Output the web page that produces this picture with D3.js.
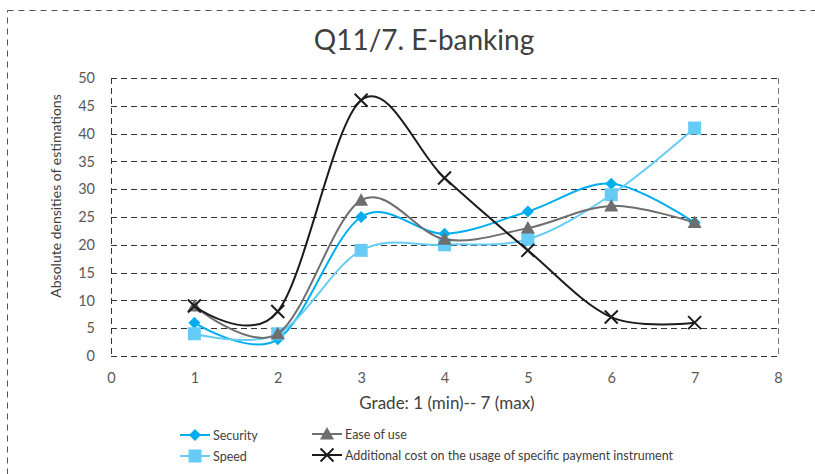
<!DOCTYPE html>
<html>
<head>
<meta charset="utf-8">
<script src="https://cdn.jsdelivr.net/npm/d3@7"></script>
<style>
  html, body { margin: 0; padding: 0; background: #fff; }
  svg { display: block; font-family: "Lato", "Open Sans", sans-serif; }
</style>
</head>
<body>
<svg id="chart" width="815" height="474"></svg>
<script>
// Grades on the x axis
const grades = [1, 2, 3, 4, 5, 6, 7];

// Absolute densities of estimations per grade
const security      = [6, 3, 25, 22, 26, 31, 24];
const speed         = [4, 4, 19, 20, 21, 29, 41];
const easeOfUse     = [9, 4, 28, 21, 23, 27, 24];
const additionalCost = [9, 8, 46, 32, 19, 7, 6];

const seriesNames = [
  "Security",
  "Speed",
  "Ease of use",
  "Additional cost on the usage of specific payment instrument"
];

const xTicks = [0, 1, 2, 3, 4, 5, 6, 7, 8];
const yTicks = [0, 5, 10, 15, 20, 25, 30, 35, 40, 45, 50];

const series = [
  { name: seriesNames[0], values: security,       color: "#00aeef", width: 2,   marker: "diamond" },
  { name: seriesNames[1], values: speed,          color: "#66ccf5", width: 2,   marker: "square" },
  { name: seriesNames[2], values: easeOfUse,      color: "#6e6e6e", width: 2,   marker: "triangle" },
  { name: seriesNames[3], values: additionalCost, color: "#1c1c1c", width: 2,   marker: "cross" }
];

const svg = d3.select("#chart");

// Outer dashed frame of the chart
svg.append("rect")
  .attr("x", 7.5).attr("y", 10.5)
  .attr("width", 830).attr("height", 480)
  .attr("fill", "none")
  .attr("stroke", "#555")
  .attr("stroke-width", 1)
  .attr("stroke-dasharray", "6,5");

const plot = { left: 111, right: 778, top: 78, bottom: 356 };

const x = d3.scaleLinear().domain([0, 8]).range([plot.left, plot.right]);
const y = d3.scaleLinear().domain([0, 50]).range([plot.bottom, plot.top]);

// Horizontal dashed gridlines
svg.append("g")
  .selectAll("line")
  .data(yTicks)
  .join("line")
  .attr("x1", plot.left).attr("x2", plot.right)
  .attr("y1", d => Math.round(y(d)) + 0.5).attr("y2", d => Math.round(y(d)) + 0.5)
  .attr("stroke", "#333")
  .attr("stroke-width", 1)
  .attr("stroke-dasharray", "6,4");

// Plot area side borders
svg.append("line")
  .attr("x1", plot.left + 0.5).attr("x2", plot.left + 0.5)
  .attr("y1", plot.top).attr("y2", plot.bottom)
  .attr("stroke", "#333").attr("stroke-dasharray", "6,4");
svg.append("line")
  .attr("x1", plot.right + 0.5).attr("x2", plot.right + 0.5)
  .attr("y1", plot.top).attr("y2", plot.bottom)
  .attr("stroke", "#777").attr("stroke-dasharray", "6,4");

// Y axis tick labels
const yAxis = d3.axisLeft(y).tickValues(yTicks).tickSize(0).tickPadding(16);
const gy = svg.append("g").attr("transform", `translate(${plot.left},0)`).call(yAxis);
gy.select(".domain").remove();
gy.selectAll("text")
  .attr("fill", "#595959")
  .style("font-size", "14.5px")
  .style("font-family", "Lato, sans-serif");

// X axis tick labels
const xAxis = d3.axisBottom(x).tickValues(xTicks).tickSize(0).tickPadding(17).tickFormat(d3.format("d"));
const gx = svg.append("g").attr("transform", `translate(0,${plot.bottom})`).call(xAxis);
gx.select(".domain").remove();
gx.selectAll("text")
  .attr("fill", "#595959")
  .style("font-size", "14.5px")
  .style("font-family", "Lato, sans-serif");

// Title
svg.append("text")
  .attr("x", 424).attr("y", 50)
  .attr("text-anchor", "middle")
  .attr("fill", "#404040")
  .style("font-size", "28px")
  .text("Q11/7. E-banking");

// Axis titles
svg.append("text")
  .attr("x", 447).attr("y", 409)
  .attr("text-anchor", "middle")
  .attr("fill", "#404040")
  .style("font-size", "17px")
  .text("Grade: 1 (min)-- 7 (max)");

svg.append("text")
  .attr("transform", "translate(61,196) rotate(-90)")
  .attr("text-anchor", "middle")
  .attr("fill", "#404040")
  .style("font-size", "14px")
  .text("Absolute densities of estimations");

// Smoothed series lines
const line = d3.line()
  .x((d, i) => x(grades[i]))
  .y(d => y(d))
  .curve(d3.curveCatmullRom.alpha(0));

const drawMarker = (g, type, color, cx, cy) => {
  if (type === "diamond") {
    g.append("path")
      .attr("d", `M${cx},${cy - 6}L${cx + 6},${cy}L${cx},${cy + 6}L${cx - 6},${cy}Z`)
      .attr("fill", color);
  } else if (type === "square") {
    g.append("rect")
      .attr("x", cx - 6.5).attr("y", cy - 6.5)
      .attr("width", 13).attr("height", 13)
      .attr("fill", color);
  } else if (type === "triangle") {
    g.append("path")
      .attr("d", `M${cx},${cy - 7}L${cx + 7},${cy + 5.5}L${cx - 7},${cy + 5.5}Z`)
      .attr("fill", color);
  } else if (type === "cross") {
    g.append("path")
      .attr("d", `M${cx - 6.5},${cy - 6.5}L${cx + 6.5},${cy + 6.5}M${cx + 6.5},${cy - 6.5}L${cx - 6.5},${cy + 6.5}`)
      .attr("stroke", color)
      .attr("stroke-width", 2)
      .attr("fill", "none");
  }
};

series.forEach(s => {
  const g = svg.append("g");
  g.append("path")
    .attr("d", line(s.values))
    .attr("fill", "none")
    .attr("stroke", s.color)
    .attr("stroke-width", s.width);
  s.values.forEach((v, i) => drawMarker(g, s.marker, s.color, x(grades[i]), y(v)));
});

// Legend
const legendPos = [
  { x: 180, y: 435 },
  { x: 180, y: 456 },
  { x: 312, y: 434 },
  { x: 312, y: 455 }
];
series.forEach((s, i) => {
  const p = legendPos[i];
  const g = svg.append("g");
  g.append("line")
    .attr("x1", p.x).attr("x2", p.x + 30)
    .attr("y1", p.y).attr("y2", p.y)
    .attr("stroke", s.color).attr("stroke-width", 2);
  drawMarker(g, s.marker, s.color, p.x + 15, p.y);
  g.append("text")
    .attr("x", p.x + 33).attr("y", p.y + 5)
    .attr("fill", "#404040")
    .style("font-size", "12.5px")
    .text(s.name);
});
</script>
</body>
</html>
